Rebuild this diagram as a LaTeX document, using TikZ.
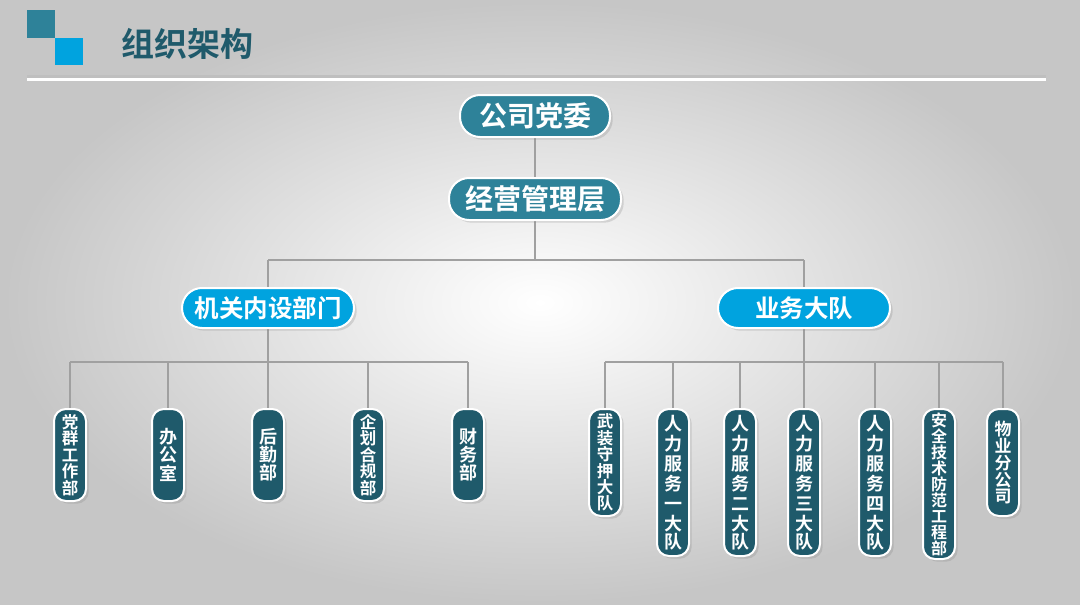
\documentclass[tikz,border=0pt]{standalone}
\usepackage{fontspec}
\setmainfont{Noto Sans CJK SC}[BoldFont={* Bold}]
\usetikzlibrary{shadows}
\definecolor{teal1}{HTML}{2E8299}
\definecolor{blue1}{HTML}{00A3DF}
\definecolor{dark1}{HTML}{1F5A6B}
\definecolor{ln}{HTML}{A0A0A0}
\newcommand{\vt}[3][18]{{\fontsize{#1}{#2}\selectfont\bfseries #3}}
\tikzset{
 top/.style={draw=white,line width=2pt,rounded corners=20pt,fill=teal1,text=white,font=\fontsize{28}{32}\selectfont\bfseries,minimum height=42pt,inner sep=0pt,drop shadow={opacity=0.25}},
 mid/.style={top,fill=blue1,minimum width=172pt,minimum height=40pt,font=\fontsize{24.5}{28}\selectfont\bfseries},
 vbox/.style={draw=white,line width=2pt,rounded corners=12pt,fill=dark1,text=white,minimum width=32pt,text width=20pt,align=center,anchor=north,inner sep=1pt,drop shadow={opacity=0.25}},
 conn/.style={draw=ln,line width=1.4pt}
}
\begin{document}
\begin{tikzpicture}[x=1pt,y=-1pt]
\useasboundingbox (0,0) rectangle (1080,605);
\shade[inner color=white,outer color=gray!45] (0,0) rectangle (1080,605);
\fill[teal1] (27,10) rectangle (55,38);
\fill[blue1] (55,38) rectangle (83,65);
\node[text=dark1,font=\fontsize{33}{36}\selectfont\bfseries,anchor=west,inner sep=0pt] (title) at (121,44) {组织架构};
\fill[gray!50] (27,75) rectangle (1046,78);
\fill[white] (27,78) rectangle (1046,81);

\coordinate (h1) at (535,260);
\coordinate (hl) at (268,260);
\coordinate (hr) at (804,260);
\coordinate (jl) at (268,362);
\coordinate (jr) at (804,362);
\coordinate (l1) at (70,362);
\coordinate (l5) at (468,362);
\coordinate (r1) at (605,362);
\coordinate (r7) at (1003,362);

\draw[conn] (535,137) -- (535,178);
\draw[conn] (535,220) -- (h1);
\draw[conn] (hl) -- (hr);
\draw[conn] (hl) -- (268,288);
\draw[conn] (hr) -- (804,288);
\draw[conn] (268,328) -- (jl);
\draw[conn] (804,328) -- (jr);
\draw[conn] (l1) -- (l5);
\draw[conn] (r1) -- (r7);
\foreach \x in {70,168,268,368,468,605,673,740,804,875,939,1003}
  \draw[conn] (\x,362) -- (\x,409);

\node[top,minimum width=150pt] (a) at (535,116) {公司党委};
\node[top,minimum width=172pt] (b) at (535,199) {经营管理层};
\node[mid] (c) at (268,308) {机关内设部门};
\node[mid] (d) at (804,308) {业务大队};

\node[vbox,minimum height=92pt] (e1) at (70,408) {\vt[16.5]{16.5}{党\\群\\工\\作\\部}};
\node[vbox,minimum height=92pt] (e2) at (168,408) {\vt{18}{办\\公\\室}};
\node[vbox,minimum height=92pt] (e3) at (268,408) {\vt{18}{后\\勤\\部}};
\node[vbox,minimum height=92pt] (e4) at (368,408) {\vt[16.5]{16.5}{企\\划\\合\\规\\部}};
\node[vbox,minimum height=92pt] (e5) at (468,408) {\vt{18}{财\\务\\部}};

\node[vbox,minimum height=107pt] (f1) at (605,408) {\vt[16.5]{16.5}{武\\装\\守\\押\\大\\队}};
\node[vbox,minimum height=147pt] (f2) at (673,408) {\vt{20}{人\\力\\服\\务\\一\\大\\队}};
\node[vbox,minimum height=147pt] (f3) at (740,408) {\vt{20}{人\\力\\服\\务\\二\\大\\队}};
\node[vbox,minimum height=147pt] (f4) at (804,408) {\vt{20}{人\\力\\服\\务\\三\\大\\队}};
\node[vbox,minimum height=147pt] (f5) at (875,408) {\vt{20}{人\\力\\服\\务\\四\\大\\队}};
\node[vbox,minimum height=150pt] (f6) at (939,408) {\vt[16]{16}{安\\全\\技\\术\\防\\范\\工\\程\\部}};
\node[vbox,minimum height=107pt] (f7) at (1003,408) {\vt[17]{17}{物\\业\\分\\公\\司}};
\end{tikzpicture}
\end{document}
